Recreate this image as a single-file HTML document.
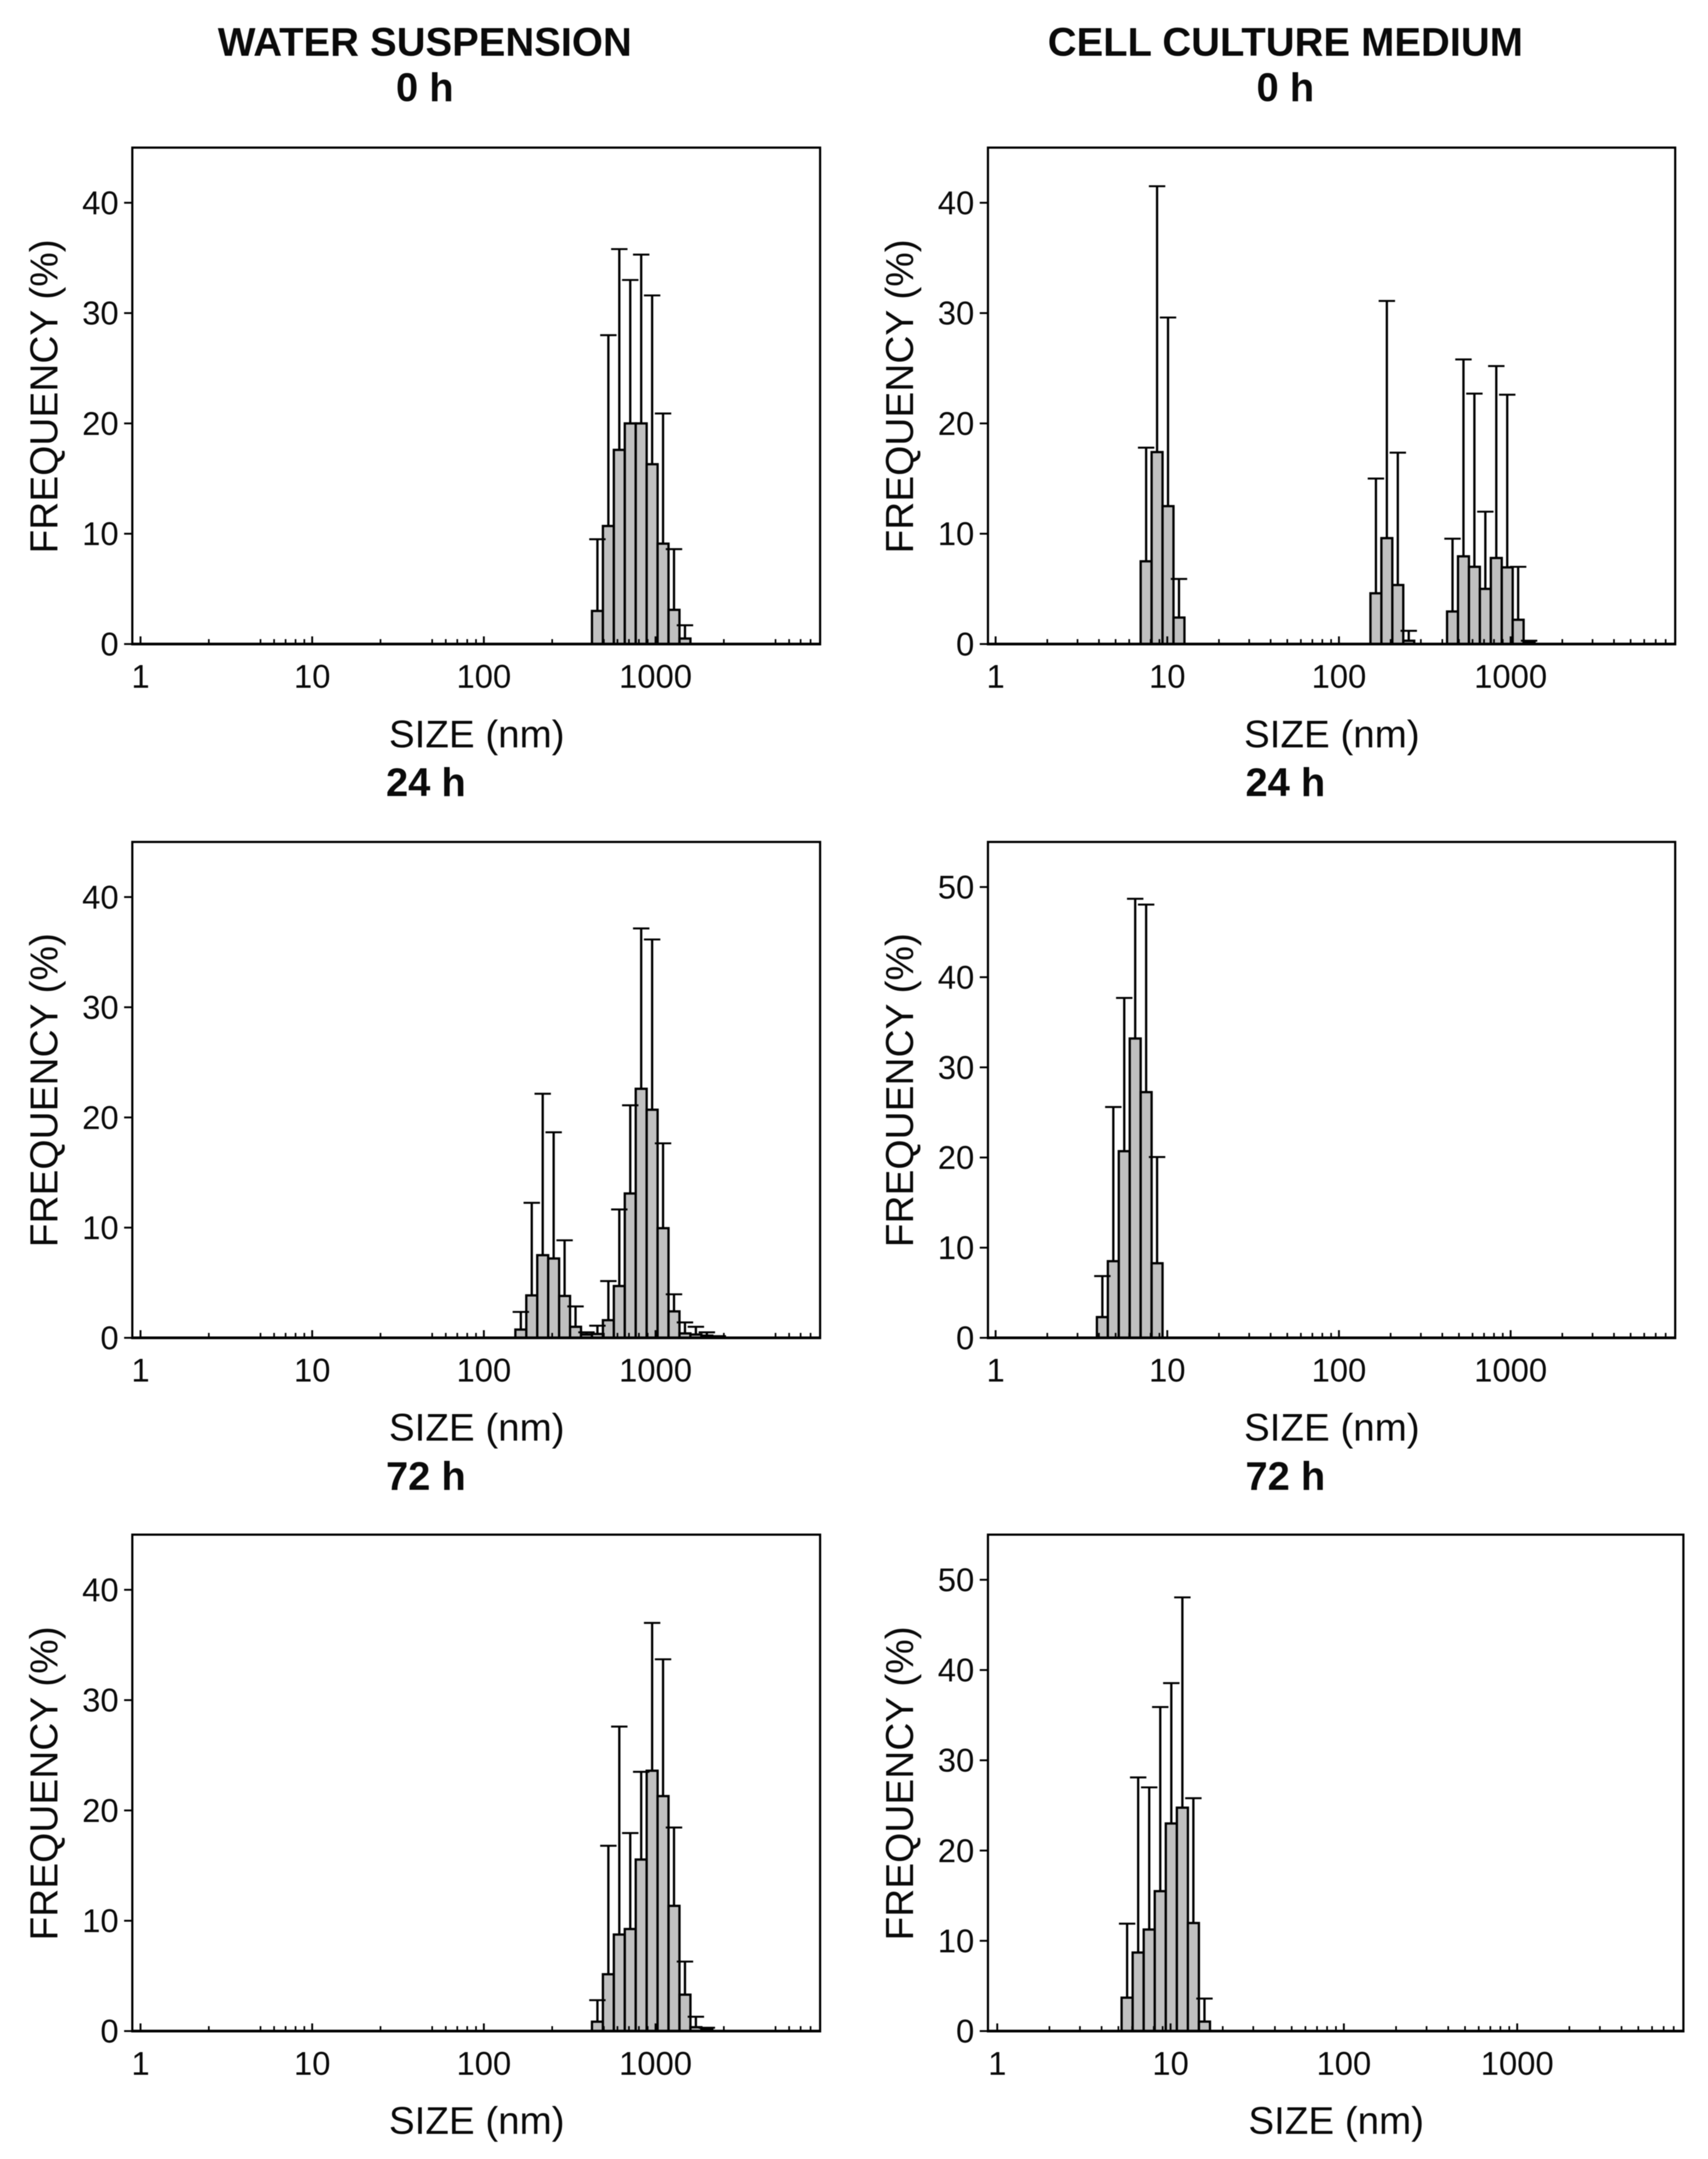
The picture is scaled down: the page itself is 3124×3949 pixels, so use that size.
<!DOCTYPE html>
<html lang="en">
<head>
<meta charset="utf-8">
<title>Particle size distributions</title>
<style>
html,body{margin:0;padding:0;background:#fff;}
svg{display:block;filter:blur(0.7px);}
text{font-family:"Liberation Sans",Arial,sans-serif;fill:#0a0a0a;}
.h{font-size:73px;font-weight:bold;text-anchor:middle;}
.a{font-size:70.5px;text-anchor:middle;}
.f{font-size:71px;text-anchor:middle;}
.t{font-size:60px;}
</style>
</head>
<body>
<svg id="figure" xmlns="http://www.w3.org/2000/svg" width="3124" height="3949" viewBox="0 0 3124 3949">
<rect width="3124" height="3949" fill="#fff"/>

<text class="h" x="777" y="102">WATER SUSPENSION</text>
<text class="h" x="2351" y="102">CELL CULTURE MEDIUM</text>
<text class="h" x="777" y="185">0 h</text>
<text class="h" x="2351" y="185">0 h</text>
<text class="h" x="779" y="1456">24 h</text>
<text class="h" x="2351" y="1456">24 h</text>
<text class="h" x="779" y="2725">72 h</text>
<text class="h" x="2351" y="2725">72 h</text>

<text class="a" x="872" y="1367">SIZE (nm)</text>
<text class="a" x="2436" y="1367">SIZE (nm)</text>
<text class="a" x="872" y="2635">SIZE (nm)</text>
<text class="a" x="2436" y="2635">SIZE (nm)</text>
<text class="a" x="872" y="3903">SIZE (nm)</text>
<text class="a" x="2444" y="3903">SIZE (nm)</text>

<text class="f" transform="translate(105,725) rotate(-90)">FREQUENCY (%)</text>
<text class="f" transform="translate(1670,725) rotate(-90)">FREQUENCY (%)</text>
<text class="f" transform="translate(105,1994) rotate(-90)">FREQUENCY (%)</text>
<text class="f" transform="translate(1670,1994) rotate(-90)">FREQUENCY (%)</text>
<text class="f" transform="translate(105,3262) rotate(-90)">FREQUENCY (%)</text>
<text class="f" transform="translate(1670,3262) rotate(-90)">FREQUENCY (%)</text>
</svg>

<script>
// ---- chart data: sizes in nm, frequency in %, upper end of error bar in % ----
const sizesWater0 = [458.7,531.2,615.1,712.4,825,955.4,1106,1281,1484];
const freqWater0  = [3.0,10.7,17.6,20.0,20.0,16.3,9.1,3.1,0.5];
const upperWater0 = [9.5,28.0,35.8,33.0,35.3,31.6,20.9,8.6,1.7];

const sizesMedium0 = [7.531,8.721,10.10,11.70,164.2,190.1,220.2,255.0,458.7,531.2,615.1,712.4,825,955.4,1106,1281];
const freqMedium0  = [7.5,17.4,12.5,2.4,4.6,9.6,5.35,0.3,2.95,7.95,7.0,5.0,7.8,6.95,2.2,0.15];
const upperMedium0 = [17.8,41.5,29.6,5.9,15.0,31.1,17.35,1.2,9.55,25.8,22.7,12.0,25.2,22.6,7.0,0.3];

const sizesWater24 = [164.2,190.1,220.2,255.0,295.3,342.0,396.1,458.7,531.2,615.1,712.4,825,955.4,1106,1281,1484,1718,1990,2305];
const freqWater24  = [0.75,3.85,7.5,7.2,3.8,1.0,0.3,0.35,1.6,4.7,13.1,22.6,20.7,9.95,2.4,0.4,0.3,0.2,0.1];
const upperWater24 = [2.35,12.25,22.15,18.65,8.85,2.85,0.5,1.1,5.15,11.65,21.1,37.15,36.15,17.65,3.95,1.4,1.0,0.5,0.15];

const sizesMedium24 = [4.187,4.849,5.615,6.503,7.531,8.721];
const freqMedium24  = [2.3,8.5,20.7,33.2,27.25,8.27];
const upperMedium24 = [6.85,25.6,37.7,48.7,48.05,20.05];

const sizesWater72 = [458.7,531.2,615.1,712.4,825,955.4,1106,1281,1484,1718,1990];
const freqWater72  = [0.85,5.15,8.75,9.25,15.55,23.6,21.3,11.35,3.3,0.35,0.15];
const upperWater72 = [2.8,16.8,27.6,17.95,23.5,37.0,33.7,18.45,6.3,1.3,0.3];

const sizesMedium72 = [5.615,6.503,7.531,8.721,10.10,11.70,13.54,15.69];
const freqMedium72  = [3.7,8.7,11.25,15.5,23.0,24.75,11.97,1.05];
const upperMedium72 = [11.9,28.1,27.0,35.9,38.55,48.05,25.8,3.6];

// ---- tick values and labels ----
const xMajorTicks = [1,10,100,1000];
const xTickLabels = ["1","10","100","1000"];
const minorFactorsWater = [2.5,5,6,7,8,9];
const minorFactorsMedium = [2,3,4,5,6,7,8,9];
const yTicksTo40 = [0,10,20,30,40];
const yTicksTo50 = [0,10,20,30,40,50];
const yLimit45 = 45;
const yLimit55 = 55;

// ---- drawing ----
const SVG_NS = "http://www.w3.org/2000/svg";
const figure = document.getElementById("figure");
const INK = "#000";
const binHalfRatio = Math.pow(10, 0.0637 / 2);

function node(parent, tag, attrs) {
  const el = document.createElementNS(SVG_NS, tag);
  for (const k in attrs) el.setAttribute(k, attrs[k]);
  parent.appendChild(el);
  return el;
}

function drawPanel(name, box, sizes, freq, upper, yTicks, yMax, minorFactors) {
  const xScale = v => box.x1 + box.decade * Math.log10(v);
  const yScale = v => box.bottom - (box.bottom - box.top) * v / yMax;

  const g = node(figure, "g", {});
  
  

  const frame = node(g, "rect", {x: box.left, y: box.top, width: box.right - box.left, height: box.bottom - box.top, fill: "#fff", stroke: INK, "stroke-width": 4});
  
  

  sizes.forEach((s, i) => {
    const x0 = xScale(s / binHalfRatio), x1 = xScale(s * binHalfRatio);
    const bar = node(g, "rect", {x: x0, y: yScale(freq[i]), width: x1 - x0, height: box.bottom - yScale(freq[i]), fill: "#c0c0c0", stroke: INK, "stroke-width": 4.2});
    
    
  });

  sizes.forEach((s, i) => {
    const cx = xScale(s);
    const stem = node(g, "line", {x1: cx, x2: cx, y1: yScale(freq[i]), y2: yScale(upper[i]), stroke: INK, "stroke-width": 4.2});
    
    
    const cap = node(g, "line", {x1: cx - 15, x2: cx + 15, y1: yScale(upper[i]), y2: yScale(upper[i]), stroke: INK, "stroke-width": 3.6});
    
    
  });

  const axis = node(g, "line", {x1: box.left - 2, x2: box.right + 2, y1: box.bottom, y2: box.bottom, stroke: INK, "stroke-width": 5});
  
  

  xMajorTicks.forEach((m, i) => {
    const xm = xScale(m);
    const major = node(g, "line", {x1: xm, x2: xm, y1: box.bottom, y2: box.bottom - 14, stroke: INK, "stroke-width": 3.4});
    
    
    const label = node(g, "text", {class: "t", x: xm, y: box.bottom + 80, "text-anchor": "middle"});
    
    
    label.textContent = xTickLabels[i];
    minorFactors.forEach(f => {
      const xn = xScale(m * f);
      if (xn >= box.right - 2) return;
      const minor = node(g, "line", {x1: xn, x2: xn, y1: box.bottom, y2: box.bottom - 9, stroke: INK, "stroke-width": 3});
      
      
    });
  });

  yTicks.forEach(v => {
    const yv = yScale(v);
    const tick = node(g, "line", {x1: box.left - 15, x2: box.left, y1: yv, y2: yv, stroke: INK, "stroke-width": 3.4});
    
    
    const label = node(g, "text", {class: "t", x: box.left - 25, y: yv + 21, "text-anchor": "end"});
    
    
    label.textContent = String(v);
  });
}

const rowA = {top: 270, bottom: 1178};
const rowB = {top: 1540, bottom: 2447};
const rowC = {top: 2807, bottom: 3715};
const colL = {left: 242, right: 1500, x1: 257, decade: 314};
const colR = {left: 1807, right: 3064, x1: 1821, decade: 314};
const colRWide = {left: 1807, right: 3079, x1: 1824, decade: 317};

drawPanel("panel-water-0h", Object.assign({}, colL, rowA), sizesWater0, freqWater0, upperWater0, yTicksTo40, yLimit45, minorFactorsWater);
drawPanel("panel-medium-0h", Object.assign({}, colR, rowA), sizesMedium0, freqMedium0, upperMedium0, yTicksTo40, yLimit45, minorFactorsMedium);
drawPanel("panel-water-24h", Object.assign({}, colL, rowB), sizesWater24, freqWater24, upperWater24, yTicksTo40, yLimit45, minorFactorsWater);
drawPanel("panel-medium-24h", Object.assign({}, colR, rowB), sizesMedium24, freqMedium24, upperMedium24, yTicksTo50, yLimit55, minorFactorsMedium);
drawPanel("panel-water-72h", Object.assign({}, colL, rowC), sizesWater72, freqWater72, upperWater72, yTicksTo40, yLimit45, minorFactorsWater);
drawPanel("panel-medium-72h", Object.assign({}, colRWide, rowC), sizesMedium72, freqMedium72, upperMedium72, yTicksTo50, yLimit55, minorFactorsMedium);
</script>
</body>
</html>
